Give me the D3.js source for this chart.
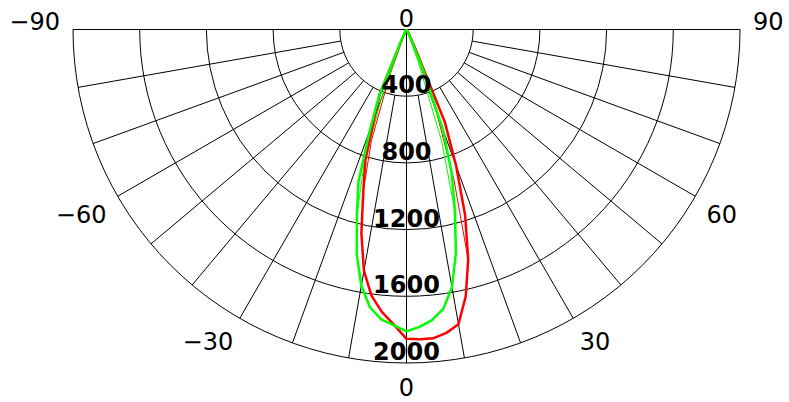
<!DOCTYPE html>
<html>
<head>
<meta charset="utf-8">
<script src="https://cdn.jsdelivr.net/npm/d3@7"></script>
<style>
  body { margin: 0; background: #fff; }
  svg { display: block; }
  .grid { fill: none; stroke: #000; stroke-width: 1; }
  text { font-family: "DejaVu Sans", sans-serif; fill: #000; }
</style>
</head>
<body>
<div id="chart"></div>
<script>
// angles in degrees, 0 = straight down, -90 left, 90 right
var angles = [-90, -45, -35, -30, -27.5, -25, -22.5, -20, -17.5, -15, -12.5, -10, -7.5, -5, -2.5,
  0, 2.5, 5, 7.5, 10, 12.5, 15, 17.5, 20, 22.5, 25, 27.5, 30, 35, 45, 90]

// intensity (cd) per angle
var redThick = [0, 0, 3, 8, 20, 60, 420, 560, 820, 1000, 1250, 1470, 1610, 1700, 1770,
  1855, 1860, 1858, 1835, 1795, 1640, 1430, 1170, 870, 600, 120, 40, 15, 5, 0, 0]
var greenThick = [0, 0, 3, 8, 20, 80, 430, 640, 960, 1150, 1380, 1560, 1680, 1745, 1775,
  1810, 1785, 1750, 1690, 1570, 1370, 1120, 900, 640, 250, 40, 15, 8, 3, 0, 0]
var redThin = [0, 0, 0, 0, 0, 0, 60, 300, 700, 1000, 1250, 1470, 1610, 1700, 1770,
  1855, 1860, 1858, 1835, 1795, 1640, 1430, 950, 520, 150, 20, 5, 2, 0, 0, 0]
var greenThin = [0, 0, 0, 0, 0, 10, 100, 440, 850, 1140, 1380, 1560, 1680, 1745, 1775,
  1810, 1785, 1750, 1690, 1570, 1370, 1110, 700, 200, 30, 5, 0, 0, 0, 0, 0]

var radialTicks = [0, 400, 800, 1200, 1600, 2000]
var angleTicks = [-90, -60, -30, 0, 30, 60, 90]
var spokes = d3.range(-80, 81, 10)

var width = 789, height = 402
var cx = 406.5, cy = 29.5, R = 333.5

var svg = d3.select('#chart').append('svg')
  .attr('width', width).attr('height', height)
var g = svg.append('g').attr('transform', 'translate(' + cx + ',' + cy + ')')

var r = d3.scaleLinear().domain([0, 2000]).range([0, R])
var rad = d => d * Math.PI / 180
function pos(a, rr){ return [rr * Math.sin(rad(a)), rr * Math.cos(rad(a))] }

// grid: half circles
g.selectAll('path.ring').data(radialTicks.slice(1)).enter()
  .append('path').attr('class', 'grid')
  .attr('d', function(d){
    var p = d3.path()
    p.moveTo(r(d), 0)
    p.arc(0, 0, r(d), 0, Math.PI)
    return p.toString()
  })

// top line from -90 to 90
g.append('line').attr('class', 'grid')
  .attr('x1', -R).attr('x2', R).attr('y1', 0).attr('y2', 0)

// spokes every 10 degrees, starting at the first ring (0 goes to the centre)
g.selectAll('line.spoke').data(spokes).enter()
  .append('line').attr('class', 'grid')
  .attr('x1', d => pos(d, d == 0 ? 0 : r(400))[0])
  .attr('y1', d => pos(d, d == 0 ? 0 : r(400))[1])
  .attr('x2', d => pos(d, R)[0])
  .attr('y2', d => pos(d, R)[1])

// curves
var line = d3.lineRadial()
  .angle(d => Math.PI - rad(d[0]))
  .radius(d => r(d[1]))

var series = [
  {vals: redThin, color: '#ff0000', w: 1},
  {vals: greenThin, color: '#00ff00', w: 1},
  {vals: redThick, color: '#ff0000', w: 2.5},
  {vals: greenThick, color: '#00ff00', w: 2.5}
]

g.selectAll('path.curve').data(series).enter()
  .append('path')
  .attr('d', s => line(angles.map((a, i) => [a, s.vals[i]])))
  .attr('fill', 'none')
  .attr('stroke', s => s.color)
  .attr('stroke-width', s => s.w)
  .attr('stroke-linejoin', 'round')

var fmt = d3.format('d')

// radial labels on the 0 line, just above each ring
g.selectAll('text.rlab').data(radialTicks).enter()
  .append('text')
  .attr('x', 0)
  .attr('y', d => r(d) - 3)
  .attr('text-anchor', 'middle')
  .style('font-size', '24px')
  .style('font-weight', d => d ? 'bold' : 'normal')
  .text(fmt)

// angle labels outside the outer ring
g.selectAll('text.alab').data(angleTicks).enter()
  .append('text')
  .attr('x', d => pos(d, R + 13)[0])
  .attr('y', d => pos(d, R + 13)[1] + (Math.abs(d) == 90 ? 0 : 20))
  .attr('text-anchor', d => d < 0 ? 'end' : d > 0 ? 'start' : 'middle')
  .style('font-size', '24px')
  .text(fmt)
</script>
</body>
</html>
